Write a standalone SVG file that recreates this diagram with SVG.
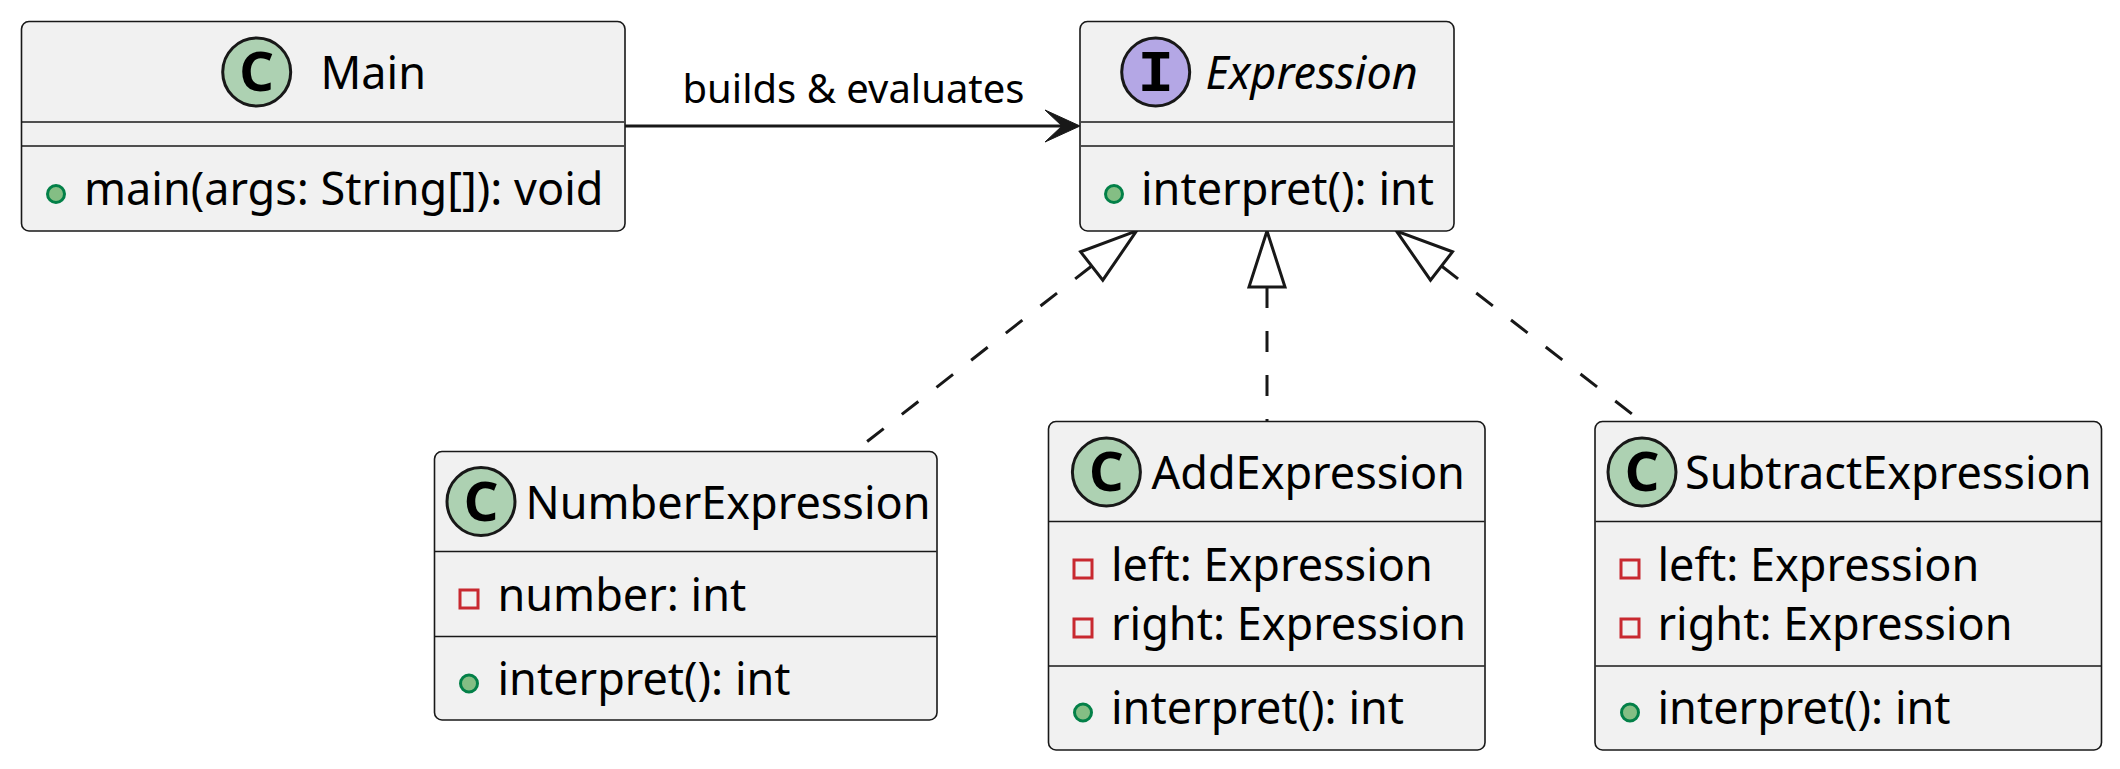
<svg xmlns="http://www.w3.org/2000/svg" width="2120" height="769" viewBox="0 0 2120 769">
<style>
.box{fill:#F1F1F1;stroke:#181818;stroke-width:1.6}
.div{stroke:#181818;stroke-width:1.6}
.cc{fill:#ADD1B2;stroke:#181818;stroke-width:3}
.ic{fill:#B4A7E5;stroke:#181818;stroke-width:3}
.cl{font-family:"Noto Sans",sans-serif;font-weight:bold;font-size:54px;fill:#000;text-anchor:middle}
.il{font-family:"Liberation Mono",monospace;font-weight:bold;font-size:60px;fill:#000;text-anchor:middle}
.t{font-family:"Noto Sans",sans-serif;font-size:45px;fill:#000}
.it{font-style:italic}
.lbl{font-family:"Noto Sans",sans-serif;font-size:40px;fill:#000;text-anchor:middle}
.pub{fill:#84BE84;stroke:#038048;stroke-width:3}
.priv{fill:none;stroke:#C82930;stroke-width:3}
.ln{fill:none;stroke:#181818;stroke-width:3}
.dash{stroke-dasharray:21,23}
.head{fill:#181818;stroke:#181818;stroke-width:1}
.tri{fill:none;stroke:#181818;stroke-width:3}
</style>
<g id="connectors">
<line class="ln" x1="625" y1="126" x2="1065" y2="126"/>
<polygon class="head" points="1080,126 1045,110 1062,126 1045,142"/>
<text class="lbl" x="853.5" y="103">builds &amp; evaluates</text>
<line class="ln dash" x1="1091.7" y1="266" x2="853.7" y2="452"/>
<polygon class="tri" points="1136.6,230.9 1080.6,251.8 1102.8,280.2"/>
<line class="ln dash" x1="1267" y1="287" x2="1267" y2="421"/>
<polygon class="tri" points="1267,231 1249,287 1285,287"/>
<line class="ln dash" x1="1441.5" y1="266" x2="1641" y2="421"/>
<polygon class="tri" points="1396.5,231.1 1430.5,280.2 1452.5,251.8"/>
</g>
<g id="Main">
<rect class="box" x="21.5" y="21.5" width="603.5" height="209.5" rx="7.5"/>
<circle class="cc" cx="256.7" cy="72" r="34"/>
<text class="cl" x="256.7" y="91">C</text>
<text class="t" x="320.5" y="89">Main</text>
<line class="div" x1="22" y1="122" x2="624" y2="122"/>
<line class="div" x1="22" y1="146" x2="624" y2="146"/>
<circle class="pub" cx="56" cy="194" r="8.5"/>
<text class="t" x="84" y="205">main(args: String[]): void</text>
</g>
<g id="Expression">
<rect class="box" x="1080" y="21.5" width="374" height="209.5" rx="7.5"/>
<circle class="ic" cx="1155.7" cy="72" r="34"/>
<text class="il" x="1155.7" y="91">I</text>
<text class="t it" x="1205.5" y="88.5">Expression</text>
<line class="div" x1="1081" y1="122" x2="1453" y2="122"/>
<line class="div" x1="1081" y1="146" x2="1453" y2="146"/>
<circle class="pub" cx="1114" cy="194" r="8.5"/>
<text class="t" x="1141" y="205">interpret(): int</text>
</g>
<g id="NumberExpression">
<rect class="box" x="434.5" y="451.5" width="502.5" height="268.5" rx="7.5"/>
<circle class="cc" cx="481" cy="501.5" r="34"/>
<text class="cl" x="481" y="520.5">C</text>
<text class="t" x="525.5" y="518.5">NumberExpression</text>
<line class="div" x1="435" y1="551.5" x2="936.5" y2="551.5"/>
<rect class="priv" x="460" y="590" width="18" height="18"/>
<text class="t" x="497.5" y="610.5">number: int</text>
<line class="div" x1="435" y1="636.5" x2="936.5" y2="636.5"/>
<circle class="pub" cx="469" cy="683.5" r="8.5"/>
<text class="t" x="497.5" y="695">interpret(): int</text>
</g>
<g id="AddExpression">
<rect class="box" x="1048.5" y="421.5" width="436.5" height="328.5" rx="7.5"/>
<circle class="cc" cx="1106.4" cy="472" r="34"/>
<text class="cl" x="1106.4" y="491">C</text>
<text class="t" x="1151.5" y="489">AddExpression</text>
<line class="div" x1="1049" y1="521.5" x2="1484.5" y2="521.5"/>
<rect class="priv" x="1074" y="560" width="18" height="18"/>
<text class="t" x="1111" y="581">left: Expression</text>
<rect class="priv" x="1074" y="619" width="18" height="18"/>
<text class="t" x="1111" y="640">right: Expression</text>
<line class="div" x1="1049" y1="666" x2="1484.5" y2="666"/>
<circle class="pub" cx="1083" cy="712.5" r="8.5"/>
<text class="t" x="1111" y="724">interpret(): int</text>
</g>
<g id="SubtractExpression">
<rect class="box" x="1595" y="421.5" width="506.5" height="328.5" rx="7.5"/>
<circle class="cc" cx="1642" cy="472" r="34"/>
<text class="cl" x="1642" y="491">C</text>
<text class="t" x="1685" y="489">SubtractExpression</text>
<line class="div" x1="1595.5" y1="521.5" x2="2101" y2="521.5"/>
<rect class="priv" x="1621" y="560" width="18" height="18"/>
<text class="t" x="1657.5" y="581">left: Expression</text>
<rect class="priv" x="1621" y="619" width="18" height="18"/>
<text class="t" x="1657.5" y="640">right: Expression</text>
<line class="div" x1="1595.5" y1="666" x2="2101" y2="666"/>
<circle class="pub" cx="1630" cy="712.5" r="8.5"/>
<text class="t" x="1657.5" y="724">interpret(): int</text>
</g>
</svg>
